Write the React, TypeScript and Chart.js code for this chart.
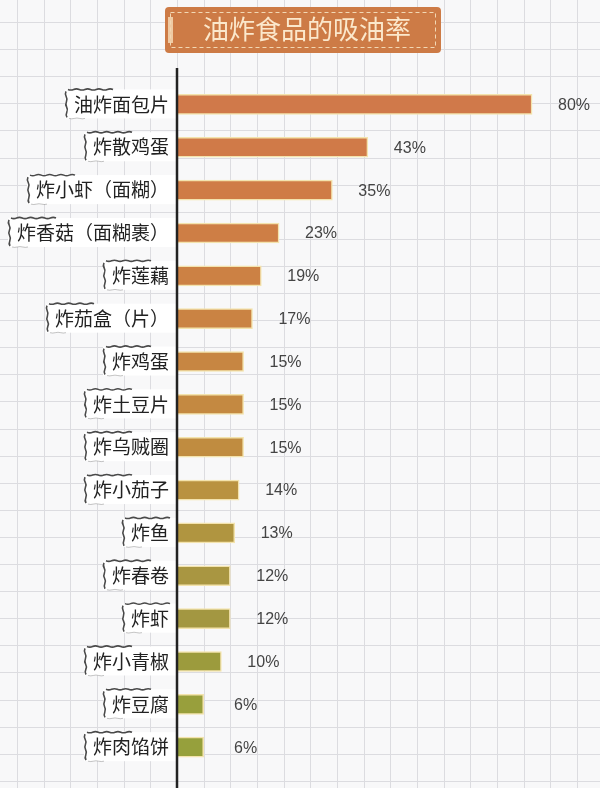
import React, { useEffect, useRef } from "react";
import { Chart, registerables } from "chart.js";
Chart.register(...registerables);

const titleText = "油炸食品的吸油率";
const categories = [
  "油炸面包片",
  "炸散鸡蛋",
  "炸小虾（面糊）",
  "炸香菇（面糊裹）",
  "炸莲藕",
  "炸茄盒（片）",
  "炸鸡蛋",
  "炸土豆片",
  "炸乌贼圈",
  "炸小茄子",
  "炸鱼",
  "炸春卷",
  "炸虾",
  "炸小青椒",
  "炸豆腐",
  "炸肉馅饼",
];
const values = [80, 43, 35, 23, 19, 17, 15, 15, 15, 14, 13, 12, 12, 10, 6, 6];
const valueLabels = values.map((v) => v + "%");
const barColors = [
  "#d0794a",
  "#d07a48",
  "#cf7c46",
  "#ce7e45",
  "#cc8144",
  "#ca8343",
  "#c78642",
  "#c48941",
  "#c08c40",
  "#b99240",
  "#b09540",
  "#a99641",
  "#a39741",
  "#9c9b3d",
  "#989f3c",
  "#96a03c",
];

const LABEL_SIZE = 19;
const LABEL_FAMILY = '"Noto Sans CJK SC", "Noto Sans", sans-serif';
const TICK_PAD = 8;

function wavyLine(
  ctx: CanvasRenderingContext2D,
  x0: number,
  y0: number,
  x1: number,
  y1: number,
  amp: number,
  seg: number
) {
  const dx = x1 - x0;
  const dy = y1 - y0;
  const len = Math.hypot(dx, dy);
  const n = Math.max(1, Math.round(len / seg));
  const nx = -dy / len;
  const ny = dx / len;
  ctx.moveTo(x0, y0);
  for (let i = 0; i < n; i++) {
    const t0 = i / n;
    const t1 = (i + 1) / n;
    const tm = (t0 + t1) / 2;
    const s = i % 2 === 0 ? amp : -amp;
    ctx.quadraticCurveTo(
      x0 + dx * tm + nx * s,
      y0 + dy * tm + ny * s,
      x0 + dx * t1,
      y0 + dy * t1
    );
  }
}

const decorPlugin = {
  id: "decor",
  beforeDraw(chart: any) {
    const ctx: CanvasRenderingContext2D = chart.ctx;
    const W = chart.width;
    const H = chart.height;
    ctx.save();
    // grid paper
    ctx.fillStyle = "#f8f8f9";
    ctx.fillRect(0, 0, W, H);
    ctx.strokeStyle = "#dcdce0";
    ctx.lineWidth = 1;
    ctx.beginPath();
    for (let x = 17; x < W; x += 26.67) {
      const px = Math.round(x) + 0.5;
      ctx.moveTo(px, 0);
      ctx.lineTo(px, H);
    }
    for (let y = 22; y < H; y += 27.1) {
      const py = Math.round(y) + 0.5;
      ctx.moveTo(0, py);
      ctx.lineTo(W, py);
    }
    ctx.stroke();

    // title box
    const bx = 165, by = 7, bw = 276, bh = 46;
    ctx.fillStyle = "#cd7b46";
    ctx.beginPath();
    (ctx as any).roundRect(bx, by, bw, bh, 4);
    ctx.fill();
    ctx.fillStyle = "#efcaa3";
    ctx.fillRect(bx + 3, by + 10, 5, bh - 20);
    ctx.strokeStyle = "#f2d8b4";
    ctx.setLineDash([4, 3]);
    ctx.lineWidth = 1;
    ctx.strokeRect(bx + 5.5, by + 5.5, bw - 11, bh - 11);
    ctx.setLineDash([]);

    // label backdrops
    const yScale = chart.scales.y;
    const axisX = chart.chartArea.left;
    ctx.font = LABEL_SIZE + "px " + LABEL_FAMILY;
    categories.forEach((c, i) => {
      const cy = yScale.getPixelForValue(i);
      const w = ctx.measureText(c).width;
      const right = axisX - TICK_PAD;
      const left = right - w - 9;
      const top = cy - 15;
      const bot = cy + 14;
      ctx.fillStyle = "#ffffff";
      ctx.fillRect(left, top, axisX - left, bot - top);
      ctx.strokeStyle = "#4a4a4a";
      ctx.lineWidth = 1.6;
      ctx.beginPath();
      wavyLine(ctx, left + 48, top, left + 3, top, 1.2, 6);
      ctx.stroke();
      ctx.beginPath();
      wavyLine(ctx, left + 1, top + 2, left + 2, bot - 1, 1.4, 5);
      ctx.stroke();
      ctx.strokeStyle = "rgba(90,90,90,0.35)";
      ctx.lineWidth = 1;
      ctx.beginPath();
      wavyLine(ctx, left + 4, bot, left + 20, bot, 0.8, 6);
      ctx.stroke();
    });
    ctx.restore();
  },
  afterDatasetsDraw(chart: any) {
    const ctx: CanvasRenderingContext2D = chart.ctx;
    const meta = chart.getDatasetMeta(0);
    ctx.save();
    // axis line
    ctx.strokeStyle = "#222222";
    ctx.lineWidth = 2.5;
    ctx.beginPath();
    ctx.moveTo(chart.chartArea.left, 68);
    ctx.lineTo(chart.chartArea.left, chart.height);
    ctx.stroke();
    // value labels
    ctx.fillStyle = "#444444";
    ctx.font = '16px "Liberation Sans", Arial, sans-serif';
    ctx.textAlign = "center";
    ctx.textBaseline = "middle";
    meta.data.forEach((bar: any, i: number) => {
      ctx.fillText(valueLabels[i], bar.x + 42, bar.y + 1);
    });
    ctx.restore();
  },
};

export default function App() {
  const ref = useRef<HTMLCanvasElement>(null);
  useEffect(() => {
    if (!ref.current) return;
    const chart = new Chart(ref.current, {
      type: "bar",
      data: {
        labels: categories,
        datasets: [
          {
            data: values,
            backgroundColor: barColors,
            borderColor: "#f3e3ad",
            borderWidth: 1.5,
            borderSkipped: "start",
            barThickness: 20,
          },
        ],
      },
      options: {
        indexAxis: "y",
        animation: false,
        responsive: true,
        maintainAspectRatio: false,
        layout: { padding: { left: 14, right: 0, top: 0, bottom: 0 } },
        plugins: {
          legend: { display: false },
          tooltip: { enabled: false },
          title: {
            display: true,
            text: titleText,
            color: "#fbe8cc",
            font: { family: '"Noto Sans CJK SC", sans-serif', size: 26, weight: "normal" as any, lineHeight: 1.2 },
            padding: { top: 14, bottom: 37.8 },
          },
        },
        scales: {
          x: {
            display: false,
            min: 0,
            max: 95.3,
          },
          y: {
            grid: { display: false, drawTicks: false },
            border: { display: false },
            ticks: {
              color: "#222222",
              padding: TICK_PAD,
              font: { family: LABEL_FAMILY, size: LABEL_SIZE },
            },
            afterFit: (scale: any) => {
              scale.width = 163;
            },
          },
        },
      },
      plugins: [decorPlugin],
    });
    return () => chart.destroy();
  }, []);
  return (
    <div style={{ position: "fixed", left: 0, top: 0, width: 600, height: 788 }}>
      <canvas ref={ref} />
    </div>
  );
}
